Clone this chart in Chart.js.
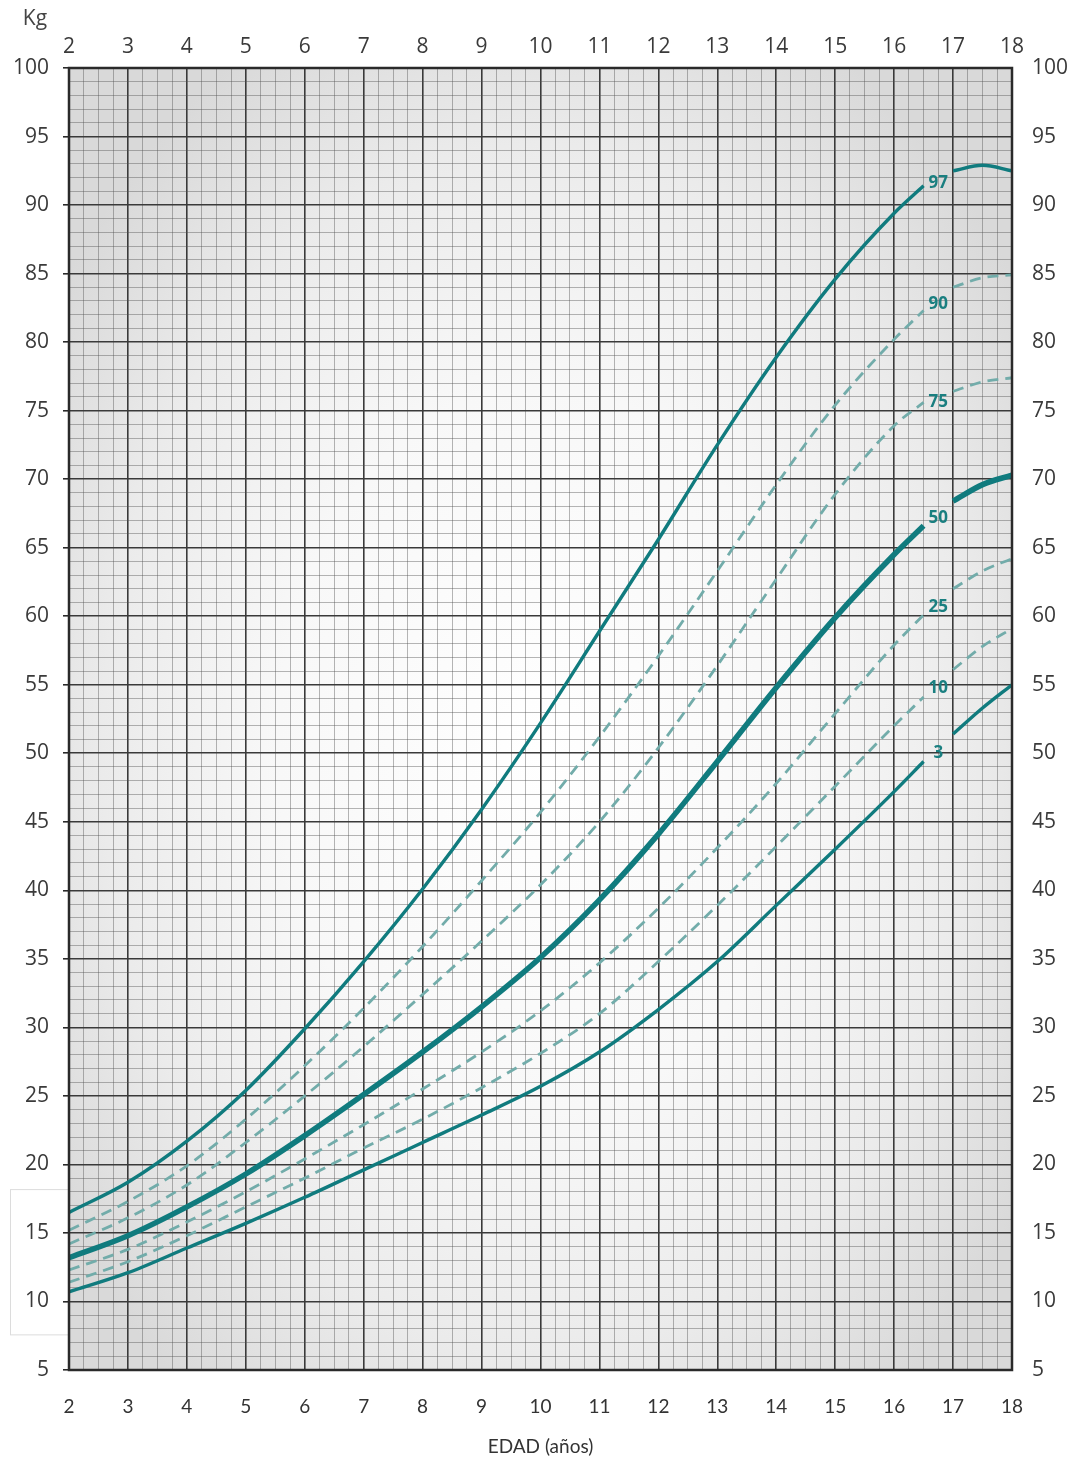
<!DOCTYPE html>
<html>
<head>
<meta charset="utf-8">
<script src="https://cdn.jsdelivr.net/npm/chart.js@4.4.0/dist/chart.umd.min.js"></script>
<style>
  html, body { margin: 0; padding: 0; background: #fff; }
  canvas { display: block; }
</style>
</head>
<body>
<canvas id="peso" width="1082" height="1461"></canvas>
<script>
// edades (años); 16.75 queda vacío para el hueco de la etiqueta
const ages = [2, 3, 4, 5, 6, 7, 8, 9, 10, 11, 12, 13, 14, 15, 16, 16.5, 16.75, 17, 17.5, 18];

// peso (kg) por percentil
const p97 = [16.5, 18.7, 21.7, 25.4, 29.9, 34.8, 40.1, 45.9, 52.2, 58.9, 65.6, 72.5, 78.9, 84.6, 89.4, 91.4, null, 92.5, 92.9, 92.5];
const p90 = [15.2, 17.3, 19.9, 23.3, 27.2, 31.4, 35.9, 40.7, 45.7, 51.2, 57.1, 63.3, 69.6, 75.4, 80.2, 82.3, null, 84.0, 84.7, 84.9];
const p75 = [14.2, 16.1, 18.5, 21.6, 25.0, 28.6, 32.4, 36.3, 40.4, 45.0, 50.4, 56.4, 62.7, 68.9, 73.9, 75.6, null, 76.4, 77.1, 77.4];
const p50 = [13.2, 14.8, 16.9, 19.3, 22.1, 25.1, 28.2, 31.5, 35.1, 39.3, 44.1, 49.4, 54.8, 59.9, 64.5, 66.6, null, 68.4, 69.6, 70.3];
const p25 = [12.3, 13.8, 15.8, 18.0, 20.4, 22.9, 25.5, 28.2, 31.2, 34.7, 38.7, 43.1, 47.8, 52.9, 57.9, 60.1, null, 62.0, 63.3, 64.2];
const p10 = [11.4, 12.9, 14.8, 16.9, 19.0, 21.2, 23.3, 25.6, 28.1, 31.0, 34.8, 38.9, 43.2, 47.6, 52.0, 54.1, null, 56.1, 57.8, 59.1];
const p3  = [10.7, 12.1, 13.9, 15.7, 17.6, 19.6, 21.6, 23.6, 25.7, 28.2, 31.3, 34.8, 38.9, 43.0, 47.2, 49.4, null, 51.4, 53.3, 55.0];

const labelAge = 16.75;
const xRange = [2, 18];
const yRange = [5, 100];

const solid = '#107b7e';
const dashed = '#72acaa';

function series(values) {
    return ages.map((a, i) => ({ x: a, y: values[i] }));
}

function curve(label, values, opts) {
    return Object.assign({
        label: label,
        data: series(values),
        borderColor: solid,
        borderWidth: 3.4,
        pointRadius: 0,
        fill: false,
        spanGaps: false,
        cubicInterpolationMode: 'monotone'
    }, opts);
}

const dash = { borderColor: dashed, borderWidth: 2.8, borderDash: [11, 7] };

const data = {
    datasets: [
        curve('97', p97),
        curve('90', p90, dash),
        curve('75', p75, dash),
        curve('50', p50, { borderWidth: 5.5 }),
        curve('25', p25, dash),
        curve('10', p10, dash),
        curve('3', p3)
    ]
};

const isMajorX = v => Math.abs(v - Math.round(v)) < 1e-6;
const isMajorY = v => v % 5 === 0;

const paper = {
    id: 'paper',
    beforeDraw(chart) {
        const { ctx, chartArea: a } = chart;
        ctx.save();
        ctx.fillStyle = '#fff';
        ctx.fillRect(0, 0, chart.width, chart.height);

        // recuadro blanco sobrante junto al eje
        const y = chart.scales.y;
        ctx.strokeStyle = '#dcdcdc';
        ctx.lineWidth = 1;
        ctx.strokeRect(a.left - 58.5, y.getPixelForValue(18.2) + 0.5, 58, y.getPixelForValue(7.6) - y.getPixelForValue(18.2));

        // fondo gris con viñeta
        ctx.beginPath();
        ctx.rect(a.left, a.top, a.right - a.left, a.bottom - a.top);
        ctx.clip();
        const cx = (a.left + a.right) / 2;
        const cy = (a.top + a.bottom) / 2 + 30;
        const rx = (a.right - a.left) * 0.62;
        const ry = (a.bottom - a.top) * 0.62;
        ctx.translate(cx, cy);
        ctx.scale(1, ry / rx);
        const g = ctx.createRadialGradient(0, 0, 0, 0, 0, rx);
        g.addColorStop(0, '#ffffff');
        g.addColorStop(0.45, '#f8f8f8');
        g.addColorStop(0.75, '#ebebeb');
        g.addColorStop(1, '#d9d9d9');
        ctx.fillStyle = g;
        ctx.fillRect(-rx * 2, -rx * 2, rx * 4, rx * 4);
        ctx.restore();
    }
};

const frame = {
    id: 'frame',
    afterDatasetsDraw(chart) {
        const { ctx, chartArea: a, scales: { x, y } } = chart;
        ctx.save();
        ctx.strokeStyle = '#2a2a2a';
        ctx.lineWidth = 2.5;
        ctx.strokeRect(a.left, a.top, a.right - a.left, a.bottom - a.top);

        // etiquetas de percentil en el hueco de cada curva
        const i = ages.indexOf(labelAge);
        ctx.font = 'bold 17px "Open Sans"';
        ctx.fillStyle = '#1a7f80';
        ctx.textAlign = 'center';
        ctx.textBaseline = 'middle';
        chart.data.datasets.forEach(ds => {
            const v = (ds.data[i - 1].y + ds.data[i + 1].y) / 2;
            ctx.fillText(ds.label, x.getPixelForValue(labelAge), y.getPixelForValue(v) + 5);
        });

        ctx.font = '21px "Open Sans"';
        ctx.fillStyle = '#444';
        ctx.fillText('Kg', a.left - 34, 19);
        ctx.restore();
    }
};

const tickFont = { family: 'Open Sans', size: 21 };
const bottomFont = { family: 'Lato', size: 19 };

const config = {
    type: 'line',
    data: data,
    options: {
        responsive: false,
        animation: false,
        devicePixelRatio: 1,
        layout: { padding: 0 },
        plugins: {
            legend: { display: false },
            tooltip: { enabled: false }
        },
        scales: {
            x: {
                type: 'linear',
                position: 'bottom',
                min: xRange[0],
                max: xRange[1],
                ticks: {
                    stepSize: 0.25,
                    autoSkip: false,
                    maxRotation: 0,
                    padding: 25,
                    color: '#333',
                    font: bottomFont,
                    callback: v => isMajorX(v) ? Math.round(v) : ''
                },
                grid: {
                    drawTicks: false,
                    color: c => isMajorX(c.tick.value) ? '#3a3a3a' : 'rgba(80,80,80,0.42)',
                    lineWidth: c => isMajorX(c.tick.value) ? 1.6 : 1
                },
                border: { display: false },
                title: {
                    display: true,
                    text: 'EDAD (años)',
                    color: '#333',
                    font: bottomFont,
                    padding: { top: 0, bottom: 3 }
                },
                afterFit: s => { s.height = 91; }
            },
            x2: {
                type: 'linear',
                position: 'top',
                min: xRange[0],
                max: xRange[1],
                ticks: {
                    stepSize: 1,
                    autoSkip: false,
                    maxRotation: 0,
                    padding: 8,
                    color: '#3a3a3a',
                    font: tickFont
                },
                grid: { display: false, drawTicks: false, tickLength: 0 },
                border: { display: false },
                afterFit: s => { s.height = 68; }
            },
            y: {
                type: 'linear',
                position: 'left',
                min: yRange[0],
                max: yRange[1],
                ticks: {
                    stepSize: 1,
                    autoSkip: false,
                    padding: 14,
                    color: '#3a3a3a',
                    font: tickFont,
                    callback: v => isMajorY(v) ? v : ''
                },
                grid: {
                    tickLength: 6,
                    tickColor: c => isMajorY(c.tick.value) ? '#2a2a2a' : 'rgba(0,0,0,0)',
                    color: c => isMajorY(c.tick.value) ? '#3a3a3a' : 'rgba(80,80,80,0.42)',
                    lineWidth: c => isMajorY(c.tick.value) ? 1.6 : 1
                },
                border: { display: false },
                afterFit: s => { s.width = 69; }
            },
            y2: {
                type: 'linear',
                position: 'right',
                min: yRange[0],
                max: yRange[1],
                ticks: {
                    stepSize: 5,
                    autoSkip: false,
                    padding: 20,
                    color: '#3a3a3a',
                    font: tickFont
                },
                grid: { display: false, drawTicks: false, tickLength: 0 },
                border: { display: false },
                afterFit: s => { s.width = 70; }
            }
        }
    },
    plugins: [paper, frame]
};

const chart = new Chart(document.getElementById('peso'), config);
</script>
</body>
</html>
